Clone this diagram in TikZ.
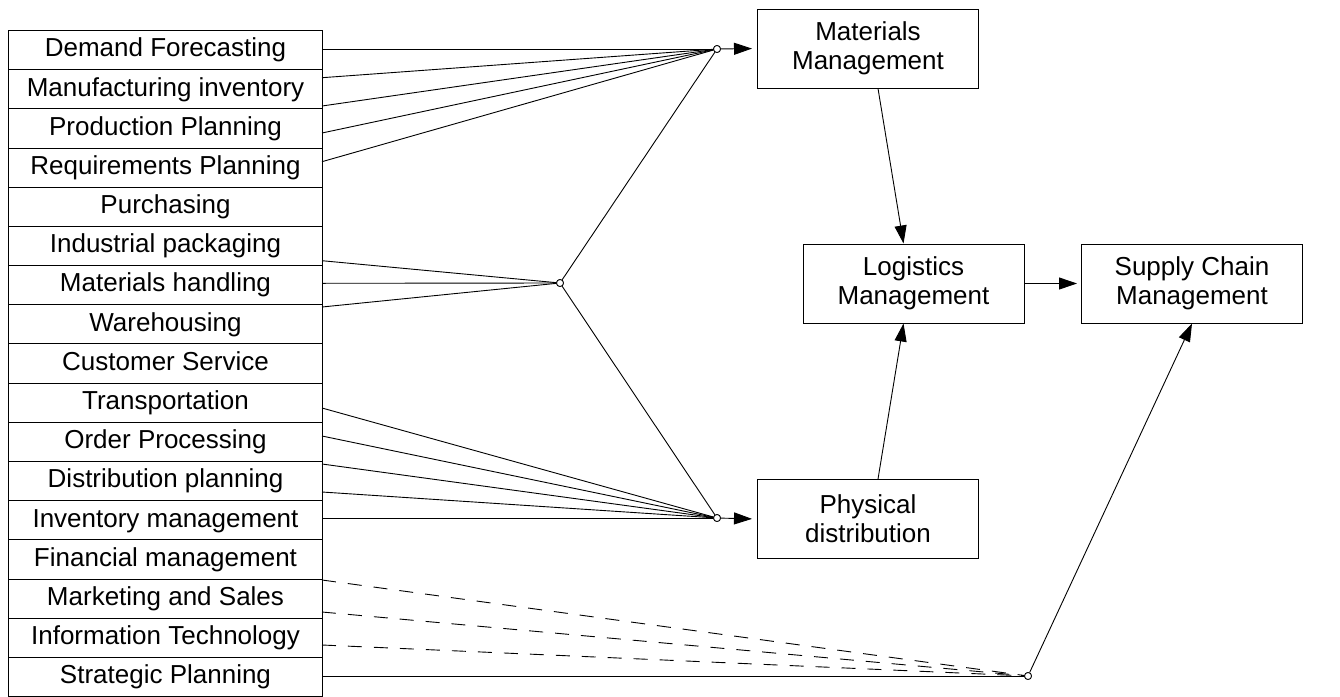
\documentclass[tikz,border=0pt]{standalone}
\usepackage{fontspec}
\setmainfont{Liberation Sans}
\usetikzlibrary{arrows.meta,calc}
\begin{document}
\begin{tikzpicture}[x=1pt,y=-1pt,
  row/.style={draw,line width=1pt,minimum width=314pt,minimum height=39.18pt,inner sep=0pt,anchor=north west,text height=19pt,text depth=5.5pt,font=\fontsize{26}{29}\selectfont},
  box/.style={draw,line width=1pt,minimum width=221pt,minimum height=79pt,inner sep=0pt,align=center,font=\fontsize{26}{29}\selectfont},
  dot/.style={circle,draw,fill=white,inner sep=0pt,minimum size=7pt,line width=0.8pt},
  link/.style={line width=0.9pt},
  dlink/.style={line width=0.9pt,dash pattern=on 14pt off 12pt},
  arr/.style={line width=0.9pt,-{Triangle[length=18pt,width=12pt]}}
]
\useasboundingbox (0,0) rectangle (1340,696);
% left column
\foreach \t [count=\i] in {Demand Forecasting,Manufacturing inventory,Production Planning,Requirements Planning,Purchasing,Industrial packaging,Materials handling,Warehousing,Customer Service,Transportation,Order Processing,Distribution planning,Inventory management,Financial management,Marketing and Sales,Information Technology,Strategic Planning}
  \node[row] (r\i) at (8,{30+(\i-1)*39.18}) {\t};
% boxes
\node[box] (mm) at (868,48.5) {Materials\\Management};
\node[box] (pd) at (868,519) {Physical\\distribution};
\node[box] (lm) at (913.5,283.5) {Logistics\\Management};
\node[box] (scm) at (1192,283.5) {Supply Chain\\Management};
% junctions
\node[dot] (j1) at (717,49) {};
\node[dot] (j2) at (560,283) {};
\node[dot] (j3) at (717,518) {};
\node[dot] (j4) at (1028,676) {};
% start points on the column edge
\coordinate (a1) at (322,49);
\coordinate (a2) at (322,77.7);
\coordinate (a3) at (322,106);
\coordinate (a4) at (322,133);
\coordinate (a5) at (322,161.7);
\coordinate (b1) at (322,260.7);
\coordinate (b2) at (322,283.3);
\coordinate (b3) at (322,307);
\coordinate (c1) at (322,408);
\coordinate (c2) at (322,436);
\coordinate (c3) at (322,464);
\coordinate (c4) at (322,492);
\coordinate (c5) at (322,518);
\coordinate (d1) at (322,580);
\coordinate (d2) at (322,612);
\coordinate (d3) at (322,645);
\coordinate (d4) at (322,676);
% connectors
\foreach \p in {a1,a2,a3,a4,a5} \draw[link] (\p) -- (j1);
\foreach \p in {b1,b2,b3} \draw[link] (\p) -- (j2);
\foreach \p in {c1,c2,c3,c4,c5} \draw[link] (\p) -- (j3);
\foreach \p in {d1,d2,d3} \draw[dlink] (\p) -- (j4);
\draw[link] (d4) -- (j4);
\draw[link] (j1) -- (j2);
\draw[link] (j2) -- (j3);
\draw[arr,shorten >=5pt] (j1) -- (mm.west);
\draw[arr,shorten >=5pt] (j3) -- (pd.west);
\draw[arr] ([xshift=10pt]mm.south) -- ([xshift=-10pt]lm.north);
\draw[arr] ([xshift=10pt]pd.north) -- ([xshift=-10pt]lm.south);
\draw[arr,shorten >=4pt] (lm.east) -- (scm.west);
\draw[arr] (j4) -- (scm.south);
% redraw dots on top
\foreach \j in {j1,j2,j3,j4} \node[dot] at (\j) {};
\end{tikzpicture}
\end{document}
